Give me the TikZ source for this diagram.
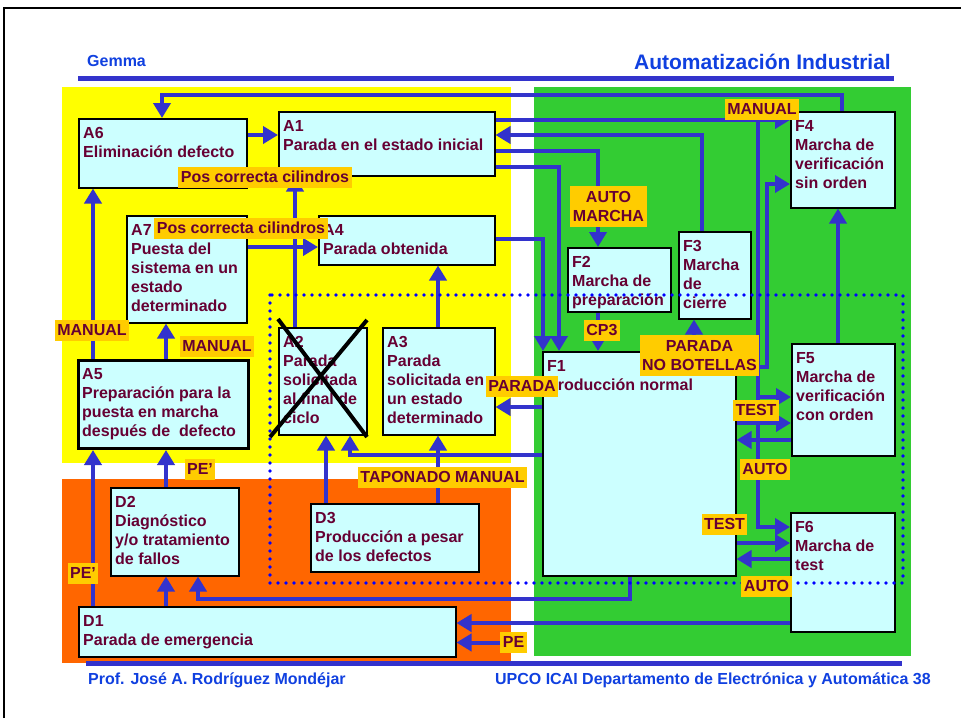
\documentclass[tikz,border=0pt]{standalone}
\usepackage{fontspec}
\setmainfont{Liberation Sans}
\usetikzlibrary{arrows.meta}

\definecolor{gyellow}{HTML}{FFFF00}
\definecolor{ggreen}{HTML}{33CC33}
\definecolor{gorange}{HTML}{FF6600}
\definecolor{gcyan}{HTML}{CCFFFF}
\definecolor{gtag}{HTML}{FFCC00}
\definecolor{gtext}{HTML}{660033}
\definecolor{gline}{HTML}{3333CC}
\definecolor{ghead}{HTML}{1040E0}
\definecolor{gdots}{HTML}{0000FF}

% state box: name, x, y, width, height, text
\newcommand\stbox[7][]{%
  \node[box,#1,minimum width=#5pt,minimum height=#6pt] (#2) at (#3,#4) {};
  \node[boxtext] (#2-t) at (#2.north west) {#7};}

\begin{document}
\begin{tikzpicture}[x=1pt,y=-1pt,
  box/.style={draw=black,line width=1.5pt,fill=gcyan,anchor=north west,inner sep=0pt},
  thickbox/.style={line width=3pt},
  boxtext/.style={anchor=north west,inner xsep=5pt,inner ysep=9pt,align=left,
    font=\bfseries\fontsize{16}{19}\selectfont,text=gtext},
  tag/.style={fill=gtag,text=gtext,inner xsep=2.5pt,inner ysep=3.5pt,
    text height=12pt,text depth=2pt,font=\bfseries\fontsize{16}{19}\selectfont},
  tag2/.style={fill=gtag,text=gtext,inner xsep=2.5pt,inner ysep=5pt,align=center,
    font=\bfseries\fontsize{16}{19}\selectfont},
  arr/.style={draw=gline,line width=4pt,-{Triangle[length=15pt,width=17pt]}},
  dotline/.style={draw=gdots,line width=3.6pt,line cap=round,dash pattern=on 0pt off 8pt},
  headtxt/.style={inner sep=0pt,text=ghead,font=\bfseries\fontsize{16}{19}\selectfont}]

\useasboundingbox (0,0) rectangle (961,718);
\fill[white] (0,0) rectangle (961,718);

% page frame
\draw[line width=2.5pt] (4,718) -- (4,8) -- (961,8);

% header and footer
\node[headtxt,anchor=base west] (gemma) at (87,66) {Gemma};
\node[headtxt,anchor=base east,font=\bfseries\fontsize{21}{24}\selectfont] (title) at (891,69) {Automatización Industrial};
\fill[gline] (78,76) rectangle (894,81);

% zones
\fill[gyellow] (62,87) rectangle (511,463);
\fill[ggreen] (534,87) rectangle (911,656);
\fill[gorange] (62,479) rectangle (511,663);

\fill[gline] (86,661) rectangle (902,666);
\node[headtxt,anchor=base west] (prof) at (88,684) {Prof. José A. Rodríguez Mondéjar};
\node[headtxt,anchor=base east] (upco) at (931,684) {UPCO ICAI Departamento de Electrónica y Automática 38};

% states
\stbox{A6}{78}{118}{168}{69}{A6\\Eliminación defecto}
\stbox{A1}{278}{111}{216}{64}{A1\\Parada en el estado inicial}
\stbox{A7}{126}{215}{120}{107}{A7\\Puesta del\\sistema en un\\estado\\determinado}
\stbox{A4}{318}{215}{176}{49}{A4\\Parada obtenida}
\stbox[thickbox]{A5}{77}{359}{170}{88}{A5\\Preparación para la\\puesta en marcha\\después de\ \ defecto}
\stbox{A2}{278}{327}{88}{107}{A2\\Parada\\solicitada\\al final de\\ciclo}
\stbox{A3}{382}{327}{112}{107}{A3\\Parada\\solicitada en\\un estado\\determinado}
\stbox{D2}{110}{487}{128}{88}{D2\\Diagnóstico\\y/o tratamiento\\de fallos}
\stbox{D3}{310}{503}{168}{68}{D3\\Producción a pesar\\de los defectos}
\stbox{D1}{78}{606}{377}{50}{D1\\Parada de emergencia}
\stbox{F1}{542}{351}{193}{224}{F1\\Producción normal}
\stbox{F2}{567}{247}{103}{64}{F2\\Marcha de\\preparación}
\stbox{F3}{678}{231}{72}{87}{F3\\Marcha\\de\\cierre}
\stbox{F4}{790}{111}{104}{96}{F4\\Marcha de\\verificación\\sin orden}
\stbox{F5}{791}{343}{103}{112}{F5\\Marcha de\\verificación\\con orden}
\stbox{F6}{790}{512}{104}{119}{F6\\Marcha de\\test}

% junction on the right-hand manual line
\coordinate (j1) at (758,120);

% transitions
\draw[arr] (842,0 |- F4.north) -- (842,95) -| (162,0 |- A6.north);
\draw[arr] (A6.east |- 0,135) -- (A1.west |- 0,135);
\draw[arr] (A1.east |- j1) -- (F4.west |- j1);
\draw[arr] (j1) |- (F6.west |- 0,527);
\draw[arr] (j1 |- 0,397) -- (F5.west |- 0,397);
\draw[arr] (702,0 |- F3.north) |- (A1.east |- 0,135);
\draw[arr] (A1.east |- 0,151) -| (598,0 |- F2.north);
\draw[arr] (A1.east |- 0,167) -| (559,0 |- F1.north);
\draw[arr] (A4.east |- 0,239) -| (543,0 |- F1.north);
\draw[arr] (598,0 |- F2.south) -- (598,0 |- F1.north);
\draw[arr] (694,0 |- F1.north) -- (694,0 |- F3.south);
\draw[arr] (F1.east |- 0,367) -- (767,367) |- (F4.west |- 0,184);
\draw[arr] (F1.west |- 0,407) -- (A3.east |- 0,407);
\draw[arr] (F1.west |- 0,455) -| (350,0 |- A2.south);
\draw[arr] (326,0 |- D3.north) -- (326,0 |- A2.south);
\draw[arr] (438,0 |- D3.north) -- (438,0 |- A3.south);
\draw[arr] (438,0 |- A3.north) -- (438,0 |- A4.south);
\draw[arr] (295,0 |- A2.north) -- (295,0 |- A1.south);
\draw[arr] (A7.east |- 0,247) -- (A4.west |- 0,247);
\draw[arr] (93,0 |- A5.north) -- (93,0 |- A6.south);
\draw[arr] (166,0 |- A5.north) -- (166,0 |- A7.south);
\draw[arr] (93,0 |- D1.north) -- (93,0 |- A5.south);
\draw[arr] (166,0 |- D2.north) -- (166,0 |- A5.south);
\draw[arr] (166,0 |- D1.north) -- (166,0 |- D2.south);
\draw[arr] (630,0 |- F1.south) -- (630,599) -| (198,0 |- D2.south);
\draw[arr] (F6.west |- 0,623) -- (D1.east |- 0,623);
\draw[arr] (838,0 |- F5.north) -- (838,0 |- F4.south);
\draw[arr] (F1.east |- 0,423) -- (F5.west |- 0,423);
\draw[arr] (F5.west |- 0,440) -- (F1.east |- 0,440);
\draw[arr] (F1.east |- 0,543) -- (F6.west |- 0,543);
\draw[arr] (F6.west |- 0,559) -- (F1.east |- 0,559);

% dotted frame
\draw[dotline] (270,295) rectangle (903,583);

% A2 crossed out
\draw[line width=4pt] (278,319) -- (367,437);
\draw[line width=4pt] (367,320) -- (270,437);

% transition labels
\node[tag] (posA) at (265,177.5) {Pos correcta cilindros};
\node[tag] (posB) at (241,228.5) {Pos correcta cilindros};
\node[tag] (manF4) at (762,109) {MANUAL};
\node[tag2] (automarcha) at (608.5,206.5) {AUTO\\MARCHA};
\node[tag] (cp3) at (602,330) {CP3};
\node[tag2] (nobot) at (699.5,355.5) {PARADA\\NO BOTELLAS};
\node[tag] (parada) at (522,386) {PARADA};
\node[tag] (test1) at (756,410) {TEST};
\node[tag] (auto1) at (765,469) {AUTO};
\node[tag] (test2) at (724.5,524.5) {TEST};
\node[tag] (auto2) at (766.5,586.5) {AUTO};
\node[tag] (manA6) at (92,330) {MANUAL};
\node[tag] (manA7) at (217,346.5) {MANUAL};
\node[tag] (pe1) at (200,469) {PE’};
\node[tag] (pe2) at (83,573) {PE’};
\node[tag] (tap) at (442.5,477) {TAPONADO MANUAL};
\node[tag] (PE) at (513.5,642.5) {PE};
\draw[arr] (PE.west) -- (D1.east |- PE.west);

\end{tikzpicture}
\end{document}
